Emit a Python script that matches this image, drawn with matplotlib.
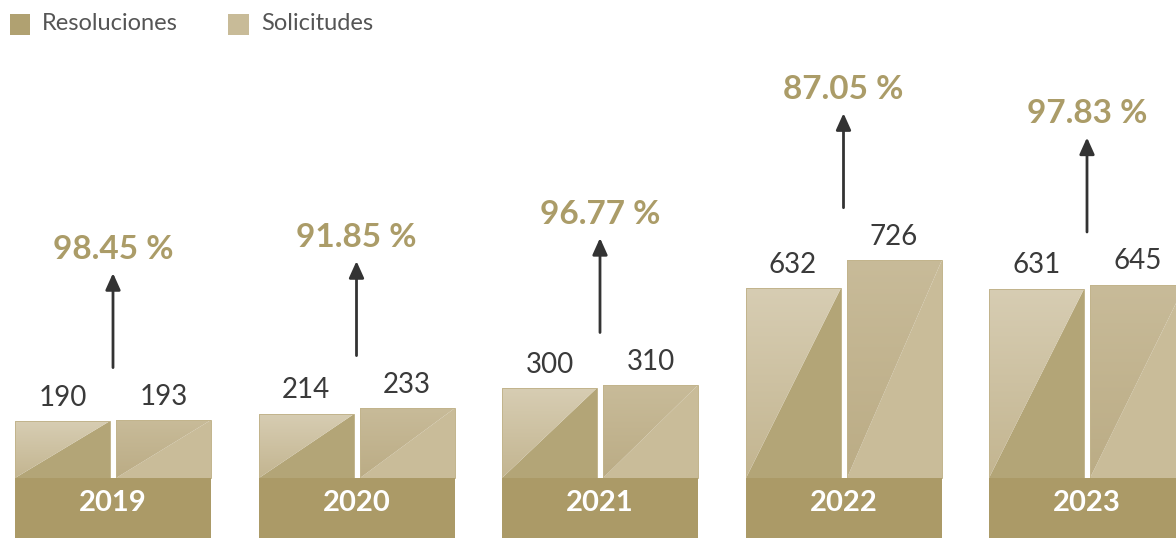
import numpy as np
import matplotlib
matplotlib.use('Agg')
import matplotlib.pyplot as plt
from matplotlib.patches import Polygon, Rectangle
from matplotlib.colors import LinearSegmentedColormap

# data
years = ['2019', '2020', '2021', '2022', '2023']
resoluciones = [190, 214, 300, 632, 631]
solicitudes = [193, 233, 310, 726, 645]
porcentajes = [r / s * 100 for r, s in zip(resoluciones, solicitudes)]

plt.rcParams['font.family'] = ['Lato', 'DejaVu Sans']

fig = plt.figure(figsize=(11.76, 5.38), dpi=100)
ax = fig.add_axes([0, 0, 1, 1])
ax.set_xlim(0, 1176)
ax.set_ylim(-200, 478 / 0.3)
ax.axis('off')

band_color = '#ab9a67'
text_gray = '#3a3a3a'
pct_color = '#ab9c68'

group_w = 243.5
bar_w = 95
gap = 6


def gradient_triangle(ax, pts, c_top, c_bot, x0, x1, y0, y1):
    cmap = LinearSegmentedColormap.from_list('g', [c_bot, c_top])
    grad = np.linspace(0, 1, 256).reshape(-1, 1)
    im = ax.imshow(grad, extent=[x0, x1, y0, y1], origin='lower',
                   cmap=cmap, aspect='auto', zorder=2, interpolation='bilinear')
    tri = Polygon(pts, closed=True, facecolor='none', edgecolor='none')
    ax.add_patch(tri)
    im.set_clip_path(tri)


def draw_bar(ax, x0, h, light_top, light_bot, dark):
    x1 = x0 + bar_w
    # lower-right triangle
    ax.add_patch(Polygon([(x0, 0), (x1, 0), (x1, h)], closed=True,
                         facecolor=dark, edgecolor='none', zorder=2))
    gradient_triangle(ax, [(x0, 0), (x0, h), (x1, h)], light_top, light_bot,
                      x0, x1, 0, h)
    ax.add_patch(Rectangle((x0, 0), bar_w, h, facecolor='none',
                           edgecolor='#c2b48c', linewidth=0.7, zorder=3))


for i, yr in enumerate(years):
    left = 15 + i * group_w
    r, s = resoluciones[i], solicitudes[i]
    draw_bar(ax, left, r, '#d7cdb3', '#c3b590', '#b3a577')
    draw_bar(ax, left + bar_w + gap, s, '#c8bb99', '#bbac85', '#c9bc99')

    # year band
    ax.add_patch(Rectangle((left, -200), 2 * bar_w + gap, 200,
                           facecolor=band_color, edgecolor='none', zorder=4))
    ax.text(left + bar_w + gap / 2, -82, yr, ha='center', va='center',
            color='white', fontsize=21, fontweight='bold', zorder=5)

    # value labels
    ax.text(left + bar_w / 2, r + 78, str(r), ha='center', va='center',
            color=text_gray, fontsize=20)
    ax.text(left + bar_w * 1.5 + gap, s + 78, str(s), ha='center', va='center',
            color=text_gray, fontsize=20)

    # arrow + percentage
    cx = left + bar_w + gap / 2
    base = max(r, s) + 175
    tip = base + 315
    ax.annotate('', xy=(cx, tip), xytext=(cx, base),
                arrowprops=dict(arrowstyle='-|>,head_width=0.45,head_length=1.0',
                                color='#333333', lw=2, shrinkA=0, shrinkB=0))
    ax.text(cx, tip + 80, f'{porcentajes[i]:.2f} %', ha='center', va='center',
            color=pct_color, fontsize=24, fontweight='bold')

# legend
fig.patches.append(Rectangle((10 / 1176, 1 - 35 / 538), 20 / 1176, 21 / 538,
                             transform=fig.transFigure, facecolor='#b0a171',
                             edgecolor='none'))
fig.text(42 / 1176, 1 - 24 / 538, 'Resoluciones', ha='left', va='center',
         color='#555555', fontsize=17)
fig.patches.append(Rectangle((228 / 1176, 1 - 35 / 538), 21 / 1176, 21 / 538,
                             transform=fig.transFigure, facecolor='#c8bb98',
                             edgecolor='none'))
fig.text(261 / 1176, 1 - 24 / 538, 'Solicitudes', ha='left', va='center',
         color='#555555', fontsize=17)

fig.savefig('out.png', dpi=100)
